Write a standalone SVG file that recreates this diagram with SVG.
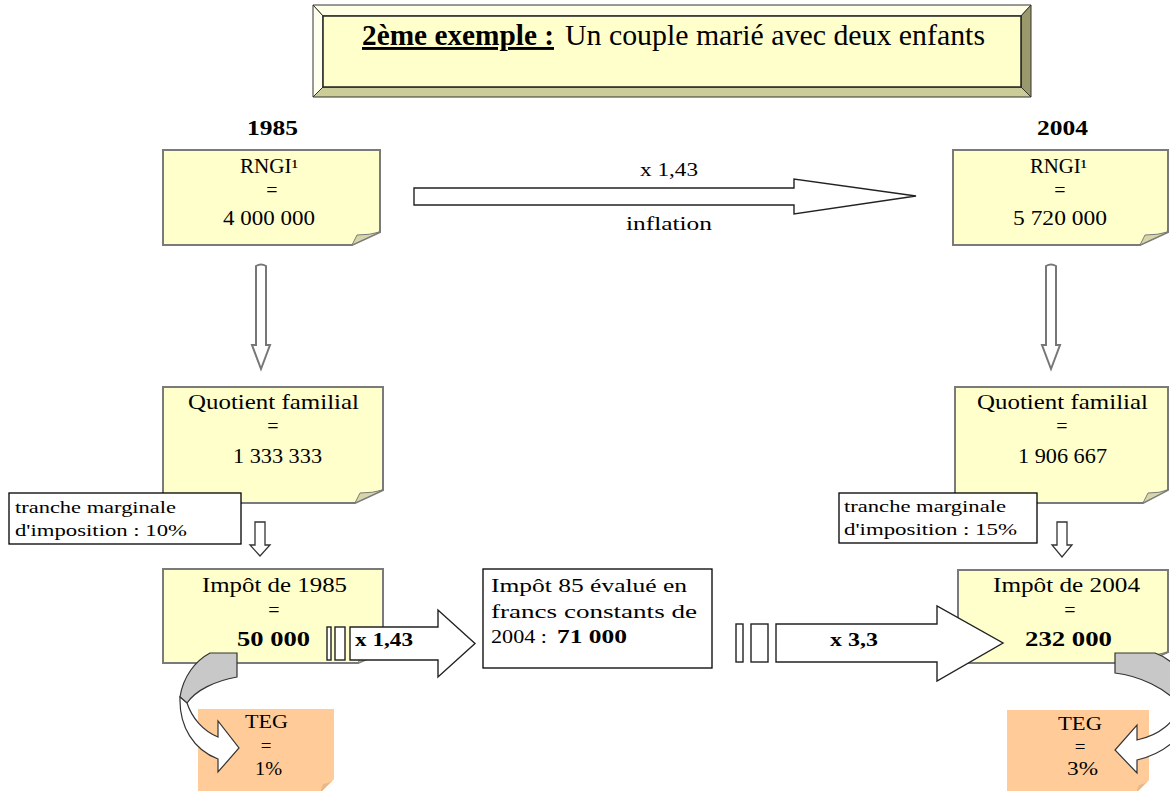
<svg xmlns="http://www.w3.org/2000/svg" width="1170" height="791" viewBox="0 0 1170 791">
<style>
text{font-family:"Liberation Serif","Times New Roman",serif;fill:#000}
.b{font-weight:bold}
.note{fill:#FFFFCC;stroke:#7a7a7a;stroke-width:2}
.fold{fill:#D6D6A8;stroke:#7a7a7a;stroke-width:1}
.teg{fill:#FFCC99;stroke:none}
.tegfold{fill:#E8B888}
.lab{fill:#fff;stroke:#000;stroke-width:1.3}
.blk{fill:#fff;stroke:#222;stroke-width:1.4}
.dn{fill:#fff;stroke:#777;stroke-width:2}
.sm{fill:#fff;stroke:#333;stroke-width:1.3}
</style>
<rect width="1170" height="791" fill="#fff"/>

<g id="title">
<polygon points="313,5 1031,5 1021,16 323,16" fill="#FFFFE5" stroke="#333" stroke-width="1"/>
<polygon points="313,5 323,16 323,87 313,97" fill="#FFFFEE" stroke="#333" stroke-width="1"/>
<polygon points="313,97 323,87 1021,87 1031,97" fill="#CCCC99" stroke="#333" stroke-width="1"/>
<polygon points="1031,5 1021,16 1021,87 1031,97" fill="#99996B" stroke="#333" stroke-width="1"/>
<rect x="323" y="16" width="698" height="71" fill="#FFFFCC" stroke="#222" stroke-width="1.5"/>
<text x="362" y="45" font-size="29" class="b" text-decoration="underline" textLength="192" lengthAdjust="spacingAndGlyphs">2ème exemple :</text>
<text x="565" y="45" font-size="29" textLength="420" lengthAdjust="spacingAndGlyphs">Un couple marié avec deux enfants</text>
</g>

<g id="year1985"><text x="247" y="135" font-size="20" class="b" textLength="51" lengthAdjust="spacingAndGlyphs">1985</text></g>
<g id="year2004"><text x="1037" y="135" font-size="20" class="b" textLength="51" lengthAdjust="spacingAndGlyphs">2004</text></g>

<g id="rngi1985">
<path class="note" d="M163,150 H380 V232 L352,245 H163 Z"/>
<path class="fold" d="M352,245 L357,235 Q370,235 380,232 Z"/>
<text x="240" y="173" font-size="20" textLength="58" lengthAdjust="spacingAndGlyphs">RNGI¹</text>
<text x="272" y="197" font-size="20" text-anchor="middle">=</text>
<text x="223" y="225" font-size="20" textLength="92" lengthAdjust="spacingAndGlyphs">4 000 000</text>
</g>

<g id="rngi2004">
<path class="note" d="M953,150 H1168 V232 L1140,245 H953 Z"/>
<path class="fold" d="M1140,245 L1145,235 Q1158,235 1168,232 Z"/>
<text x="1030" y="173" font-size="20" textLength="57" lengthAdjust="spacingAndGlyphs">RNGI¹</text>
<text x="1060" y="197" font-size="20" text-anchor="middle">=</text>
<text x="1013" y="225" font-size="20" textLength="94" lengthAdjust="spacingAndGlyphs">5 720 000</text>
</g>

<g id="qf1985">
<path class="note" d="M163,387 H383 V490 L355,503 H163 Z"/>
<path class="fold" d="M355,503 L360,493 Q373,493 383,490 Z"/>
<text x="188" y="409" font-size="22" textLength="171" lengthAdjust="spacingAndGlyphs">Quotient familial</text>
<text x="273" y="433" font-size="20" text-anchor="middle">=</text>
<text x="233" y="463" font-size="20" textLength="89" lengthAdjust="spacingAndGlyphs">1 333 333</text>
</g>

<g id="qf2004">
<path class="note" d="M955,387 H1168 V490 L1143,503 H955 Z"/>
<path class="fold" d="M1143,503 L1148,493 Q1160,493 1168,490 Z"/>
<text x="977" y="409" font-size="22" textLength="171" lengthAdjust="spacingAndGlyphs">Quotient familial</text>
<text x="1062" y="433" font-size="20" text-anchor="middle">=</text>
<text x="1018" y="463" font-size="20" textLength="89" lengthAdjust="spacingAndGlyphs">1 906 667</text>
</g>

<g id="tranche1985">
<rect class="lab" x="9" y="493" width="232" height="51"/>
<text x="15" y="513" font-size="16" textLength="161" lengthAdjust="spacingAndGlyphs">tranche marginale</text>
<text x="15" y="536" font-size="16" textLength="172" lengthAdjust="spacingAndGlyphs">d'imposition : 10%</text>
</g>

<g id="tranche2004">
<rect class="lab" x="839" y="493" width="198" height="50"/>
<text x="844" y="512" font-size="16" textLength="162" lengthAdjust="spacingAndGlyphs">tranche marginale</text>
<text x="844" y="535" font-size="16" textLength="173" lengthAdjust="spacingAndGlyphs">d'imposition : 15%</text>
</g>

<g id="impot1985">
<path class="note" d="M163,569 H383 V652 L358,663 H163 Z"/>
<path class="fold" d="M358,663 L362,655 Q374,655 383,652 Z"/>
<text x="202" y="592" font-size="20" textLength="145" lengthAdjust="spacingAndGlyphs">Impôt de 1985</text>
<text x="274" y="617" font-size="20" text-anchor="middle">=</text>
<text x="237" y="646" font-size="20" class="b" textLength="73" lengthAdjust="spacingAndGlyphs">50 000</text>
</g>

<g id="impot85const">
<rect class="lab" x="483" y="569" width="229" height="99"/>
<text x="491" y="592" font-size="19" textLength="196" lengthAdjust="spacingAndGlyphs">Impôt 85 évalué en</text>
<text x="491" y="618" font-size="19" textLength="206" lengthAdjust="spacingAndGlyphs">francs constants de</text>
<text x="491" y="643" font-size="19" textLength="56" lengthAdjust="spacingAndGlyphs">2004 :</text>
<text x="557" y="643" font-size="19" class="b" textLength="70" lengthAdjust="spacingAndGlyphs">71 000</text>
</g>

<g id="impot2004">
<path class="note" d="M958,570 H1168 V652 L1143,663 H958 Z"/>
<path class="fold" d="M1143,663 L1147,655 Q1159,655 1168,652 Z"/>
<text x="993" y="592" font-size="20" textLength="147" lengthAdjust="spacingAndGlyphs">Impôt de 2004</text>
<text x="1070" y="617" font-size="20" text-anchor="middle">=</text>
<text x="1025" y="646" font-size="20" class="b" textLength="87" lengthAdjust="spacingAndGlyphs">232 000</text>
</g>

<g id="teg1985">
<path class="teg" d="M198,709 H334 V779 L320,793 H198 Z"/>
<path class="tegfold" d="M320,793 L323,784 Q330,783 334,779 Z"/>
<text x="245" y="728" font-size="19" textLength="43" lengthAdjust="spacingAndGlyphs">TEG</text>
<text x="266" y="752" font-size="19" text-anchor="middle">=</text>
<text x="255" y="775" font-size="19" textLength="27" lengthAdjust="spacingAndGlyphs">1%</text>
</g>

<g id="teg2004">
<path class="teg" d="M1007,710 H1149 V780 L1136,793 H1007 Z"/>
<path class="tegfold" d="M1136,793 L1139,785 Q1145,784 1149,780 Z"/>
<text x="1058" y="730" font-size="19" textLength="44" lengthAdjust="spacingAndGlyphs">TEG</text>
<text x="1080" y="753" font-size="19" text-anchor="middle">=</text>
<text x="1067" y="775" font-size="19" textLength="31" lengthAdjust="spacingAndGlyphs">3%</text>
</g>

<g id="connectors">
<path class="blk" d="M414,188 H794 V179 L916,196 L794,214 V205 H414 Z"/>
<text x="640" y="176" font-size="19" textLength="58" lengthAdjust="spacingAndGlyphs">x 1,43</text>
<text x="626" y="230" font-size="19" textLength="86" lengthAdjust="spacingAndGlyphs">inflation</text>

<path class="dn" d="M256,266 Q261,263 266,266 V345 H270 L261,369 L252,345 H256 Z"/>
<path class="dn" d="M1046,266 Q1051,263 1056,266 V345 H1060 L1051,369 L1042,345 H1046 Z"/>

<path class="sm" d="M255,522 H265 V545 H270 L260,556 L250,545 H255 Z"/>
<path class="sm" d="M1057,522 H1067 V545 H1072 L1062,557 L1052,545 H1057 Z"/>

<rect class="blk" x="327" y="627" width="4" height="33"/>
<rect class="blk" x="335" y="627" width="10" height="33"/>
<path class="blk" d="M350,627 H438 V610 L475,643.5 L438,677 V660 H350 Z"/>
<text x="355" y="646" font-size="19" class="b" textLength="58" lengthAdjust="spacingAndGlyphs">x 1,43</text>

<rect class="blk" x="736" y="624" width="7" height="38"/>
<rect class="blk" x="751" y="624" width="17" height="38"/>
<path class="blk" d="M776,624 H937 V606 L1003,643 L937,681 V662 H776 Z"/>
<text x="830" y="646" font-size="19" class="b" textLength="48" lengthAdjust="spacingAndGlyphs">x 3,3</text>

<path d="M210,653 L237,653 L237,677 C215,681 196,690 187,703 L180,697 C183,677 195,661 210,653 Z" fill="#C8C8C8" stroke="#333" stroke-width="1.2"/>
<path d="M180,697 C179,727 194,750 218,759 L218,772 L239,748 L218,721 L218,737 C203,731 192,718 187,703 Z" fill="#fff" stroke="#333" stroke-width="1.2"/>

<path d="M1115,653 L1155,653 C1175,660 1188,678 1192,698 L1180,705 C1165,688 1140,676 1115,673 Z" fill="#C8C8C8" stroke="#333" stroke-width="1.2"/>
<path d="M1192,698 C1192,730 1170,752 1137,760 L1137,773 L1115,750 L1137,725 L1137,740 C1160,735 1175,722 1180,705 Z" fill="#fff" stroke="#333" stroke-width="1.2"/>
</g>
</svg>
